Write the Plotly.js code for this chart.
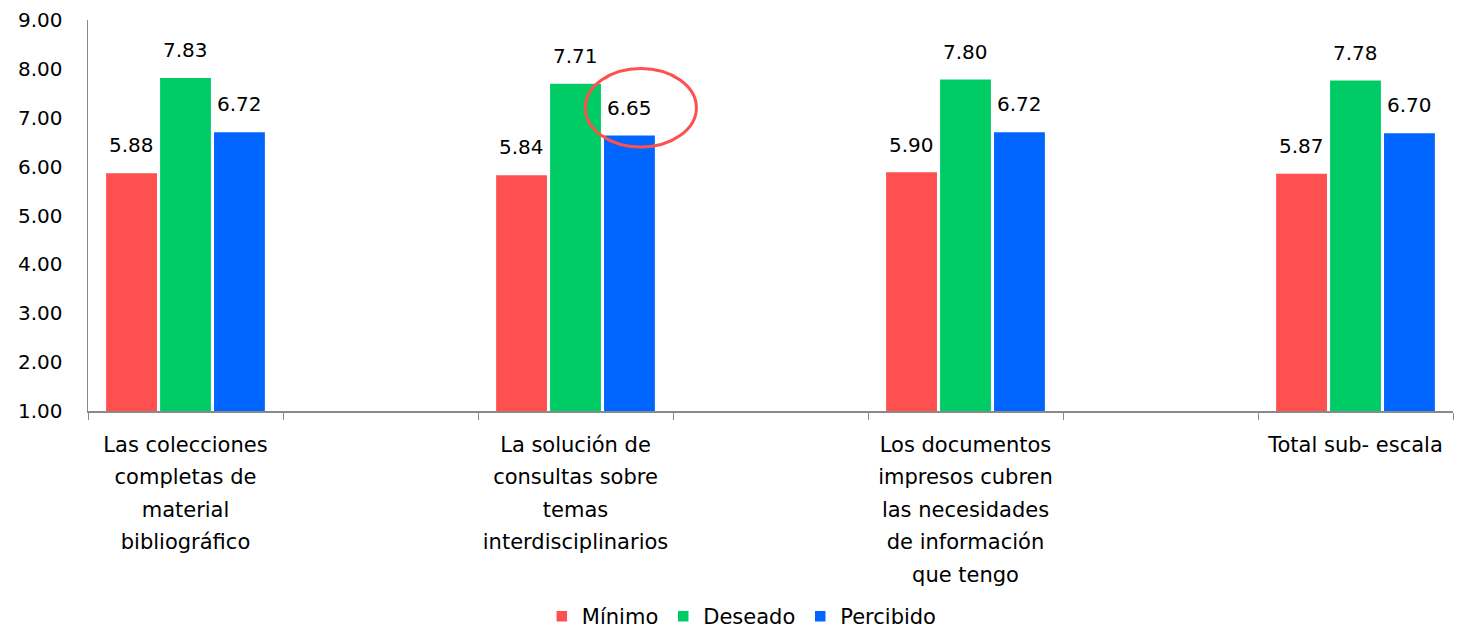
<!DOCTYPE html>
<html>
<head>
<meta charset="utf-8">
<script src="https://cdn.plot.ly/plotly-3.0.1.min.js"></script>
<style>html,body{margin:0;padding:0;background:#fff;}#chart{width:1459px;height:632px;}</style>
</head>
<body>
<div id="chart"></div>
<script>
const categories = [
  "Las colecciones<br>completas de<br>material<br>bibliográfico",
  "La solución de<br>consultas sobre<br>temas<br>interdisciplinarios",
  "Los documentos<br>impresos cubren<br>las necesidades<br>de información<br>que tengo",
  "Total sub- escala"
];
const minimo = [5.88, 5.84, 5.90, 5.87];
const deseado = [7.83, 7.71, 7.80, 7.78];
const percibido = [6.72, 6.65, 6.72, 6.70];
const seriesNames = ["Mínimo", "Deseado", "Percibido"];
const seriesColors = ["#FF5050", "#00CC66", "#0066FF"];

// spacer categories between the real ones (as in the original chart)
const spacers = [" ", "  ", "   "];
const xCats = [];
categories.forEach((c, i) => { xCats.push(c); if (i < spacers.length) xCats.push(spacers[i]); });
function pad(vals) {
  const out = [];
  vals.forEach((v, i) => { out.push(v); if (i < spacers.length) out.push(null); });
  return out;
}
// tick label text: wider line spacing, smaller glyphs
const tickText = xCats.map(c => c.split("<br>").map(l => '<span style="font-size:21px">' + l + '</span>').join("<br>"));

const font = "DejaVu Sans, Arial, sans-serif";
const BARGAP = 0.17;
const allSeries = [minimo, deseado, percibido];
const traces = allSeries.map((vals, k) => ({
  type: "bar",
  name: seriesNames[k],
  x: xCats,
  y: pad(vals),
  marker: { color: seriesColors[k], line: { color: "#ffffff", width: 1.5 } },
  hoverinfo: "skip"
}));

// value labels above the bars
const slot = (1 - BARGAP) / allSeries.length;
const annotations = [];
allSeries.forEach((vals, k) => {
  vals.forEach((v, i) => {
    annotations.push({
      xref: "x", yref: "y",
      x: 2 * i + (k - (allSeries.length - 1) / 2) * slot,
      y: v,
      text: v.toFixed(2),
      showarrow: false,
      xanchor: "center", yanchor: "bottom",
      yshift: 13,
      font: { family: font, size: 20, color: "#000" }
    });
  });
});

const layout = {
  width: 1459, height: 632,
  margin: { l: 88, r: 6, t: 20, b: 221, autoexpand: false },
  paper_bgcolor: "#fff", plot_bgcolor: "#fff",
  barmode: "group",
  bargap: BARGAP,
  bargroupgap: 0.03,
  font: { family: font, size: 20, color: "#000" },
  xaxis: {
    type: "category",
    categoryorder: "array",
    categoryarray: xCats,
    tickmode: "array",
    tickvals: xCats,
    ticktext: tickText,
    tickson: "boundaries",
    ticks: "outside", ticklen: 7, tickcolor: "#898989", tickwidth: 1,
    showline: true, linecolor: "#898989", linewidth: 1.5,
    showgrid: false, zeroline: false,
    tickfont: { family: font, size: 25, color: "#000" },
    ticklabelstandoff: 9,
    automargin: false,
    fixedrange: true
  },
  yaxis: {
    range: [1, 9],
    dtick: 1,
    tickformat: ".2f",
    showline: true, linecolor: "#898989", linewidth: 1.5,
    showgrid: false, zeroline: false,
    ticks: "",
    ticklabelstandoff: 20,
    tickfont: { family: font, size: 20, color: "#000" },
    automargin: false,
    fixedrange: true
  },
  legend: {
    orientation: "h",
    x: 0.479, xanchor: "center",
    y: -0.578, yanchor: "bottom",
    font: { family: font, size: 21, color: "#000" },
    itemwidth: 30
  },
  annotations: annotations,
  shapes: [{
    type: "circle", xref: "x", yref: "y",
    x0: 2.05, x1: 2.62, y0: 6.40, y1: 8.01,
    line: { color: "#FF5050", width: 3 }
  }]
};

Plotly.newPlot("chart", traces, layout, { displayModeBar: false, staticPlot: true });
</script>
</body>
</html>
